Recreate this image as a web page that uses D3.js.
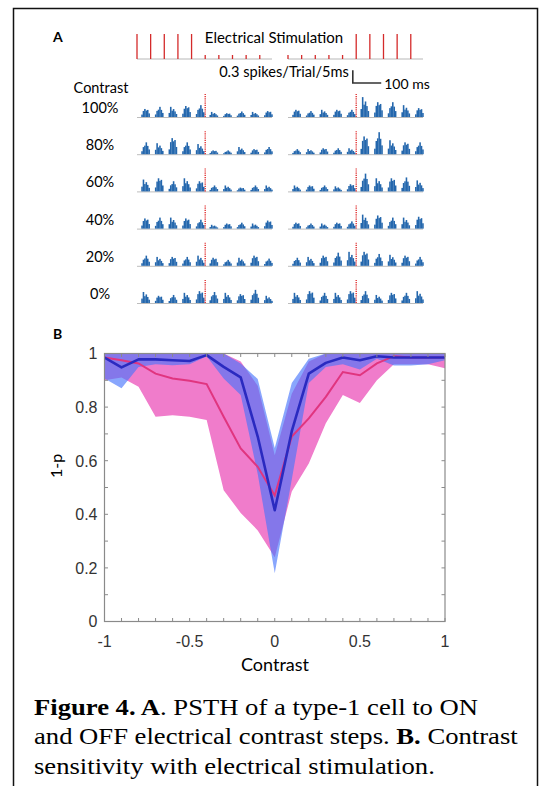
<!DOCTYPE html>
<html>
<head>
<meta charset="utf-8">
<script src="https://cdn.jsdelivr.net/npm/d3@7"></script>
<style>
  html, body { margin: 0; padding: 0; background: #fff; }
  svg { display: block; }
</style>
</head>
<body>
<svg id="fig" width="540" height="786"></svg>
<script>
// ---------- Panel A: stimulation protocol and PSTHs ----------
const pulseTimes = [0, 48, 96, 144, 192, 240, 288, 336, 384, 432];   // ms within each block
const offToOnAmps = [1, 1, 1, 1, 1, 0.16, 0.16, 0.16, 0.16, 0.16];    // left block: strong -> weak
const onToOffAmps = [0.16, 0.16, 0.16, 0.16, 0.16, 1, 1, 1, 1, 1];    // right block: weak -> strong
const stepTime = 240;                                                  // contrast step (ms)
const blockDuration = 475;

const contrastRows = ["100%", "80%", "60%", "40%", "20%", "0%"];

// peak response (spikes/trial/5ms) after each pulse, left and right blocks
const psthLeft = [
  [0.19, 0.24, 0.24, 0.26, 0.28, 0.12, 0.09, 0.13, 0.12, 0.14],
  [0.28, 0.26, 0.38, 0.28, 0.24, 0.09, 0.09, 0.17, 0.12, 0.17],
  [0.28, 0.31, 0.24, 0.31, 0.24, 0.14, 0.14, 0.09, 0.14, 0.14],
  [0.24, 0.26, 0.26, 0.24, 0.21, 0.09, 0.12, 0.14, 0.12, 0.19],
  [0.24, 0.21, 0.21, 0.21, 0.24, 0.19, 0.14, 0.19, 0.24, 0.17],
  [0.26, 0.17, 0.19, 0.24, 0.28, 0.26, 0.24, 0.21, 0.31, 0.17]
];
const psthRight = [
  [0.17, 0.14, 0.17, 0.17, 0.17, 0.47, 0.35, 0.35, 0.28, 0.21],
  [0.12, 0.12, 0.14, 0.14, 0.14, 0.42, 0.52, 0.33, 0.28, 0.28],
  [0.14, 0.14, 0.14, 0.12, 0.17, 0.42, 0.31, 0.31, 0.33, 0.26],
  [0.14, 0.12, 0.12, 0.14, 0.17, 0.33, 0.31, 0.26, 0.26, 0.28],
  [0.19, 0.21, 0.24, 0.31, 0.33, 0.33, 0.28, 0.26, 0.24, 0.21],
  [0.24, 0.28, 0.24, 0.24, 0.28, 0.28, 0.19, 0.24, 0.24, 0.28]
];
// relative bin profile of a response burst (5 ms bins starting 15 ms after a pulse)
const burstShapes = [
  [0.30, 0.75, 1.00, 0.80, 0.88, 0.45],
  [0.25, 0.60, 0.72, 1.00, 0.70, 0.40],
  [0.40, 1.00, 0.62, 0.78, 0.55, 0.30]
];
const burstLatency = 15, binWidth = 5;

// ---------- Panel B: contrast sensitivity ----------
const contrasts = [-1, -0.9, -0.8, -0.7, -0.6, -0.5, -0.4, -0.3, -0.2, -0.1, 0,
                   0.1, 0.2, 0.3, 0.4, 0.5, 0.6, 0.7, 0.8, 0.9, 1];
const elecMean  = [0.985, 0.948, 0.978, 0.978, 0.975, 0.972, 0.994, 0.950, 0.911, 0.690, 0.415,
                   0.710, 0.925, 0.965, 0.985, 0.975, 0.990, 0.985, 0.985, 0.985, 0.985];
const elecUpper = [1, 1, 1, 1, 1, 1, 1, 1, 0.963, 0.905, 0.647,
                   0.890, 0.980, 1, 1, 1, 1, 1, 1, 1, 1];
const elecLower = [0.907, 0.870, 0.950, 0.960, 0.956, 0.960, 0.990, 0.907, 0.845, 0.550, 0.180,
                   0.530, 0.890, 0.950, 0.960, 0.940, 0.980, 0.955, 0.955, 0.960, 0.975];
const lightMean  = [0.985, 0.975, 0.963, 0.925, 0.907, 0.898, 0.886, 0.764, 0.646, 0.577, 0.470,
                    0.690, 0.758, 0.838, 0.931, 0.919, 0.963, 0.990, 0.985, 0.985, 0.985];
const lightUpper = [1, 1, 1, 1, 1, 1, 1, 1, 0.970, 0.880, 0.620,
                    0.850, 0.970, 1, 1, 1, 1, 1, 1, 1, 1];
const lightLower = [0.900, 0.910, 0.876, 0.764, 0.770, 0.764, 0.752, 0.490, 0.405, 0.340, 0.240,
                    0.485, 0.590, 0.740, 0.845, 0.815, 0.900, 0.960, 0.960, 0.960, 0.945];

const xTickValues = [-1, -0.5, 0, 0.5, 1];
const xTickLabels = ["-1", "-0.5", "0", "0.5", "1"];
const yTickValues = [0, 0.2, 0.4, 0.6, 0.8, 1];
const yTickLabels = ["0", "0.2", "0.4", "0.6", "0.8", "1"];

const captionLines = [
  [{t: "Figure 4. A", b: true}, {t: ". PSTH of a type-1 cell to ON", b: false}],
  [{t: "and OFF electrical contrast steps. ", b: false}, {t: "B.", b: true}, {t: " Contrast", b: false}],
  [{t: "sensitivity with electrical stimulation.", b: false}]
];

// =====================================================================
const svg = d3.select("#fig");
const sans = "Lato, 'Open Sans', sans-serif";

// outer frame (open at the bottom)
svg.append("path")
  .attr("d", "M13.5,786 V8.5 H537.5 V786")
  .attr("fill", "none").attr("stroke", "#111").attr("stroke-width", 1.5);

// ---- Panel A ----
const gA = svg.append("g");
gA.append("text").attr("x", 53).attr("y", 42).text("A")
  .attr("font-family", sans).attr("font-weight", 700).attr("font-size", 14);

const tLeft = d3.scaleLinear().domain([0, blockDuration]).range([137, 272]);
const tRight = d3.scaleLinear().domain([0, blockDuration]).range([288, 423]);
const stimAmp = d3.scaleLinear().domain([0, 1]).range([59, 34]);

// stimulation trace
[[tLeft, offToOnAmps], [tRight, onToOffAmps]].forEach(([ts, amps]) => {
  gA.append("line")
    .attr("x1", ts(0)).attr("x2", ts(blockDuration))
    .attr("y1", stimAmp(0)).attr("y2", stimAmp(0))
    .attr("stroke", "#cfcfcf").attr("stroke-width", 1.5);
  gA.selectAll(null).data(pulseTimes).enter().append("line")
    .attr("x1", d => ts(d)).attr("x2", d => ts(d))
    .attr("y1", stimAmp(0)).attr("y2", (d, i) => stimAmp(amps[i]))
    .attr("stroke", "#d42a2a").attr("stroke-width", 1.3);
});
gA.append("text").attr("x", 274).attr("y", 43).attr("text-anchor", "middle")
  .attr("font-family", sans).attr("font-size", 15).text("Electrical Stimulation");

// PSTH geometry
const rowY = d3.scalePoint().domain(contrastRows).range([117, 303]);
const rateH = d3.scaleLinear().domain([0, 0.3]).range([0, 12.7]);

// scale bar
const sbT = 228, sbBase = 83;
gA.append("path")
  .attr("d", `M${tRight(sbT)},${sbBase - rateH(0.3)} V${sbBase} H${tRight(sbT + 100)}`)
  .attr("fill", "none").attr("stroke", "#333").attr("stroke-width", 1.6);
gA.append("text").attr("x", tRight(sbT) - 4).attr("y", 77).attr("text-anchor", "end")
  .attr("font-family", sans).attr("font-size", 14.6).text("0.3 spikes/Trial/5ms");
gA.append("text").attr("x", tRight(sbT + 100) + 3).attr("y", 89)
  .attr("font-family", sans).attr("font-size", 14).text("100 ms");

gA.append("text").attr("x", 101).attr("y", 93).attr("text-anchor", "middle")
  .attr("font-family", sans).attr("font-size", 14.5).text("Contrast");

contrastRows.forEach((lab, r) => {
  const base = rowY(lab);
  gA.append("text").attr("x", 100).attr("y", base - 4).attr("text-anchor", "middle")
    .attr("font-family", sans).attr("font-size", 14.5).text(lab);

  [[tLeft, psthLeft[r]], [tRight, psthRight[r]]].forEach(([ts, peaks]) => {
    gA.append("line")
      .attr("x1", ts(0)).attr("x2", ts(blockDuration))
      .attr("y1", base + 0.5).attr("y2", base + 0.5)
      .attr("stroke", "#bdbdbd").attr("stroke-width", 1);

    const bins = [];
    peaks.forEach((p, i) => {
      const shape = burstShapes[(r + i) % burstShapes.length];
      shape.forEach((s, k) => {
        bins.push({t: pulseTimes[i] + burstLatency + k * binWidth, v: p * s});
      });
    });
    gA.selectAll(null).data(bins).enter().append("rect")
      .attr("x", d => ts(d.t))
      .attr("width", d => ts(d.t + binWidth) - ts(d.t) + 0.15)
      .attr("y", d => base - rateH(d.v))
      .attr("height", d => rateH(d.v))
      .attr("fill", "#2467ad");

    gA.append("line")
      .attr("x1", ts(stepTime)).attr("x2", ts(stepTime))
      .attr("y1", base).attr("y2", base - 23)
      .attr("stroke", "#e03030").attr("stroke-width", 1.4)
      .attr("stroke-dasharray", "1.2,1");
  });
});

// ---- Panel B ----
const gB = svg.append("g");
gB.append("text").attr("x", 53).attr("y", 339).text("B")
  .attr("font-family", sans).attr("font-weight", 700).attr("font-size", 14);

const x = d3.scaleLinear().domain([-1, 1]).range([104.5, 445]);
const y = d3.scaleLinear().domain([0, 1]).range([621.5, 353.5]);

svg.append("defs").append("clipPath").attr("id", "plotclip")
  .append("rect").attr("x", x(-1)).attr("y", y(1))
  .attr("width", x(1) - x(-1)).attr("height", y(0) - y(1));

const plot = gB.append("g").attr("clip-path", "url(#plotclip)");
const idx = d3.range(contrasts.length);
const band = (lo, hi) => d3.area().x(i => x(contrasts[i])).y0(i => y(lo[i])).y1(i => y(hi[i]));
const line = vals => d3.line().x(i => x(contrasts[i])).y(i => y(vals[i]));

plot.append("path").attr("d", band(lightLower, lightUpper)(idx))
  .attr("fill", "#f07ccb");
plot.append("path").attr("d", band(elecLower, elecUpper)(idx))
  .attr("fill", "rgb(70,115,252)").attr("fill-opacity", 0.64);
plot.append("path").attr("d", line(lightMean)(idx))
  .attr("fill", "none").attr("stroke", "#e0357f").attr("stroke-width", 2);
plot.append("path").attr("d", line(elecMean)(idx))
  .attr("fill", "none").attr("stroke", "#2a2ac0").attr("stroke-width", 2.6)
  .attr("stroke-linejoin", "round");

// axes box with inward ticks on all four sides
const axisColor = "#8a8a8a";
gB.append("rect").attr("x", x(-1)).attr("y", y(1))
  .attr("width", x(1) - x(-1)).attr("height", y(0) - y(1))
  .attr("fill", "none").attr("stroke", axisColor).attr("stroke-width", 1.2);

const minorX = d3.range(-10, 11).map(k => k / 10);
const minorY = d3.range(0, 11).map(k => k / 10);
const tickLen = 3.5;
gB.selectAll(null).data(minorX).enter().append("path")
  .attr("d", d => `M${x(d)},${y(0)} v${-tickLen} M${x(d)},${y(1)} v${tickLen}`)
  .attr("stroke", axisColor).attr("stroke-width", 1);
gB.selectAll(null).data(minorY).enter().append("path")
  .attr("d", d => `M${x(-1)},${y(d)} h${tickLen} M${x(1)},${y(d)} h${-tickLen}`)
  .attr("stroke", axisColor).attr("stroke-width", 1);

const tickFont = "'Liberation Sans', Arial, sans-serif";
gB.selectAll(null).data(xTickValues).enter().append("text")
  .attr("x", d => x(d)).attr("y", 647).attr("text-anchor", "middle")
  .attr("font-family", tickFont).attr("font-size", 16).attr("fill", "#333")
  .text((d, i) => xTickLabels[i]);
gB.selectAll(null).data(yTickValues).enter().append("text")
  .attr("x", 97.5).attr("y", d => y(d) + 5.8).attr("text-anchor", "end")
  .attr("font-family", tickFont).attr("font-size", 16).attr("fill", "#333")
  .text((d, i) => yTickLabels[i]);

gB.append("text").attr("x", 275).attr("y", 671).attr("text-anchor", "middle")
  .attr("font-family", sans).attr("font-size", 18).text("Contrast");
gB.append("text").attr("transform", "translate(62,466) rotate(-90)")
  .attr("text-anchor", "middle")
  .attr("font-family", sans).attr("font-size", 16).text("1-p");

// ---- caption (slightly wide-set serif, as in the printed figure) ----
const cap = svg.append("g")
  .attr("transform", "translate(34,0) scale(1.11,1)")
  .attr("font-family", "'Liberation Serif', 'Times New Roman', serif")
  .attr("font-size", 24).attr("fill", "#000");
captionLines.forEach((parts, li) => {
  const t = cap.append("text").attr("x", 0).attr("y", 715 + li * 29.5);
  parts.forEach(p => t.append("tspan").attr("font-weight", p.b ? 700 : 400).text(p.t));
});
</script>
</body>
</html>
